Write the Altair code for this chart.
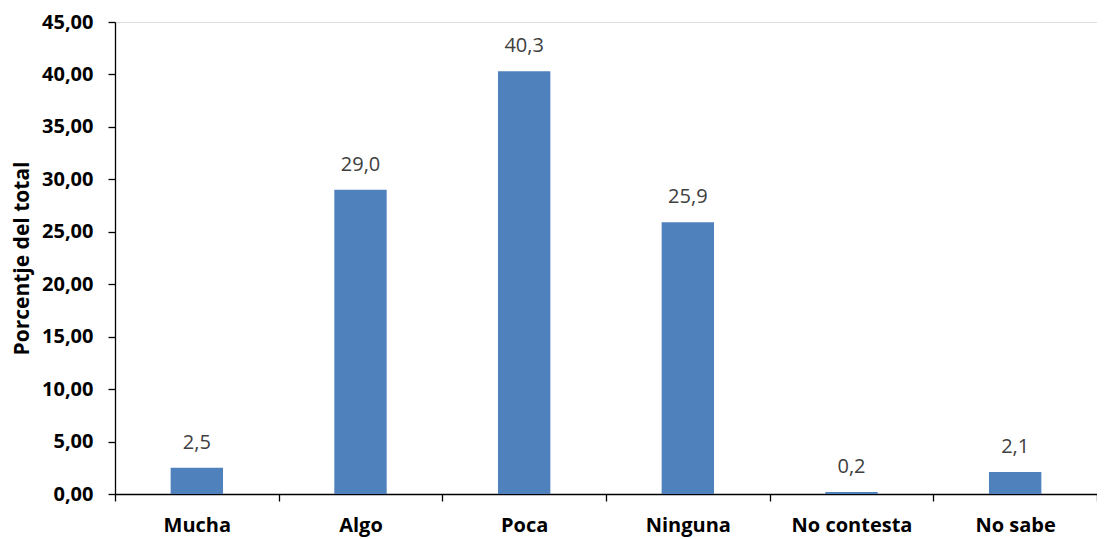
import altair as alt
import pandas as pd

categories = ["Mucha", "Algo", "Poca", "Ninguna", "No contesta", "No sabe"]
values = [2.5, 29.0, 40.3, 25.9, 0.2, 2.1]
y_ticks = [0, 5, 10, 15, 20, 25, 30, 35, 40, 45]

df = pd.DataFrame({"cat": categories, "val": values})

FONT = "Open Sans"

x = alt.X("cat:N", sort=categories, title=None,
          scale=alt.Scale(paddingInner=0, paddingOuter=0),
          axis=alt.Axis(labelAngle=0, tickBand="extent", domainColor="black",
                        tickColor="black", tickSize=7, labelFont=FONT,
                        labelFontSize=20, labelFontWeight="bold",
                        labelColor="black", labelPadding=14, domainWidth=1.3,
                        tickWidth=1.3))
y = alt.Y("val:Q", title="Porcentje del total",
          scale=alt.Scale(domain=[0, 45], nice=False),
          axis=alt.Axis(values=y_ticks, grid=False, domainColor="black",
                        tickColor="black", tickSize=7, labelFont=FONT,
                        labelFontSize=20, labelFontWeight="bold",
                        labelColor="black", labelPadding=15, labelFlush=False,
                        labelExpr="replace(format(datum.value, '.2f'), '.', ',')",
                        titleFont=FONT, titleFontSize=21, titleFontWeight="bold",
                        titleColor="black", titlePadding=9, domainWidth=1.3,
                        tickWidth=1.3))

base = alt.Chart(df)
bars = base.mark_bar(color="#4F81BD", width=alt.RelativeBandSize(0.32)).encode(x=x, y=y)
labels = base.transform_calculate(
    lbl="replace(format(datum.val, '.1f'), '.', ',')"
).mark_text(font=FONT, fontSize=20, color="#404040", baseline="alphabetic", dy=-19).encode(
    x=alt.X("cat:N", sort=categories), y=alt.Y("val:Q"), text="lbl:N")

chart = (bars + labels).properties(
    width=982, height=472,
    autosize=alt.AutoSizeParams(type="none"),
    padding={"left": 107, "top": 14, "right": 0, "bottom": 48},
).configure_view(stroke=None).configure(background="white")

chart.save("out.html", embed_options={"renderer": "svg", "actions": False})
